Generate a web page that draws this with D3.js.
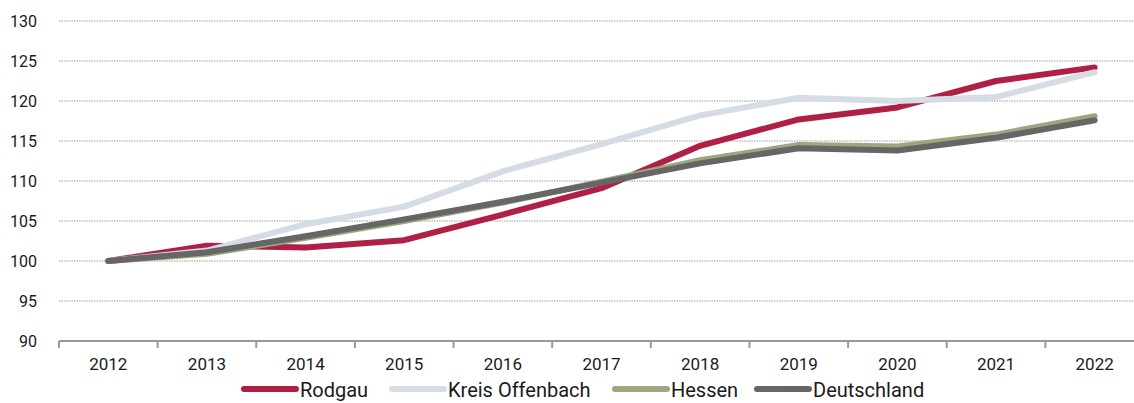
<!DOCTYPE html>
<html>
<head>
<meta charset="utf-8">
<script src="https://cdn.jsdelivr.net/npm/d3@7"></script>
<style>
  body { margin: 0; background: #fff; }
  svg text { font-family: Roboto, "Noto Sans", sans-serif; fill: #1a1a1a; }
</style>
</head>
<body>
<div id="chart"></div>
<script>
// Data (index, 2012 = 100)
const years = ["2012", "2013", "2014", "2015", "2016", "2017", "2018", "2019", "2020", "2021", "2022"];
const rodgau = [100, 101.9, 101.7, 102.6, 105.8, 109.1, 114.4, 117.7, 119.2, 122.5, 124.2];
const kreisOffenbach = [100, 101.3, 104.6, 106.8, 111.2, 114.6, 118.2, 120.4, 120.0, 120.5, 123.6];
const hessen = [100, 100.9, 102.9, 105.0, 107.3, 109.9, 112.6, 114.5, 114.3, 115.8, 118.1];
const deutschland = [100, 101.1, 103.1, 105.2, 107.4, 109.8, 112.2, 114.1, 113.8, 115.4, 117.6];
const yTicks = [90, 95, 100, 105, 110, 115, 120, 125, 130];

const seriesNames = ["Rodgau", "Kreis Offenbach", "Hessen", "Deutschland"];
const seriesValues = [rodgau, kreisOffenbach, hessen, deutschland];
const seriesColors = ["#b01f45", "#d5dce4", "#9aa77f", "#666666"];

const width = 1134, height = 403;

const svg = d3.select("#chart").append("svg")
  .attr("width", width)
  .attr("height", height);

const x = d3.scaleBand().domain(years).range([59, 1144]);
const y = d3.scaleLinear().domain([90, 130]).range([341, 21]);

// gridlines (dotted)
svg.append("g")
  .selectAll("line")
  .data(yTicks.filter(d => d > 90))
  .enter()
  .append("line")
  .attr("x1", 59)
  .attr("x2", width)
  .attr("y1", d => y(d))
  .attr("y2", d => y(d))
  .attr("stroke", "#9a9a9a")
  .attr("stroke-width", 1)
  .attr("stroke-dasharray", "1.5,1");

// y labels
svg.append("g")
  .selectAll("text")
  .data(yTicks)
  .enter()
  .append("text")
  .attr("x", 37)
  .attr("y", d => y(d))
  .attr("dy", "0.35em")
  .attr("text-anchor", "end")
  .style("font-size", "16px")
  .text(d => d);

// x axis line and ticks at band boundaries
svg.append("line")
  .attr("x1", 59).attr("x2", width)
  .attr("y1", y(90)).attr("y2", y(90))
  .attr("stroke", "#999")
  .attr("stroke-width", 2);

svg.append("g")
  .selectAll("line")
  .data(years)
  .enter()
  .append("line")
  .attr("x1", d => x(d))
  .attr("x2", d => x(d))
  .attr("y1", y(90))
  .attr("y2", y(90) + 7)
  .attr("stroke", "#999")
  .attr("stroke-width", 2);

svg.append("g")
  .selectAll("text")
  .data(years)
  .enter()
  .append("text")
  .attr("x", d => x(d) + x.bandwidth() / 2)
  .attr("y", 370)
  .attr("text-anchor", "middle")
  .style("font-size", "17px")
  .text(d => d);

// lines
const line = d3.line()
  .x((d, i) => x(years[i]) + x.bandwidth() / 2)
  .y(d => y(d));

svg.append("g")
  .selectAll("path")
  .data(seriesValues)
  .enter()
  .append("path")
  .attr("d", d => line(d))
  .attr("fill", "none")
  .attr("stroke", (d, i) => seriesColors[i])
  .attr("stroke-width", 6)
  .attr("stroke-linejoin", "round")
  .attr("stroke-linecap", "round");

// legend
const legendX = [244, 392, 615, 757];
const legend = svg.append("g")
  .selectAll("g")
  .data(seriesNames)
  .enter()
  .append("g")
  .attr("transform", (d, i) => `translate(${legendX[i]}, 389)`);

legend.append("line")
  .attr("x1", 0).attr("x2", 52)
  .attr("y1", 0).attr("y2", 0)
  .attr("stroke", (d, i) => seriesColors[i])
  .attr("stroke-width", 6)
  .attr("stroke-linecap", "round");

legend.append("text")
  .attr("x", 56)
  .attr("y", 8)
  .style("font-size", "20px")
  .text(d => d);
</script>
</body>
</html>
